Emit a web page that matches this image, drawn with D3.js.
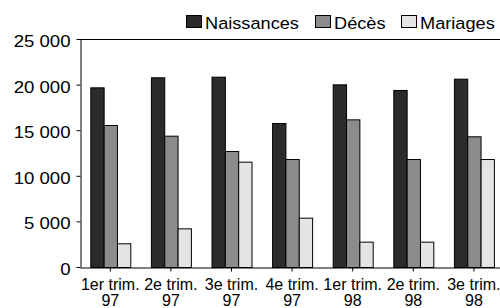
<!DOCTYPE html>
<html>
<head>
<meta charset="utf-8">
<script src="https://cdn.jsdelivr.net/npm/d3@7"></script>
<style>
  body { margin: 0; background: #fff; }
  svg { display: block; }
  svg text { font-family: "Liberation Sans", Arial, sans-serif; }
</style>
</head>
<body>
<div id="chart"></div>
<script>
const categories = ["1er trim.|97", "2e trim.|97", "3e trim.|97", "4e trim.|97", "1er trim.|98", "2e trim.|98", "3e trim.|98"];
const seriesNames = ["Naissances", "Décès", "Mariages"];
const naissances = [19700, 20800, 20870, 15790, 20030, 19410, 20650];
const deces = [15570, 14400, 12720, 11840, 16190, 11840, 14330];
const mariages = [2600, 4240, 11550, 5410, 2780, 2780, 11840];
const yTicks = [0, 5000, 10000, 15000, 20000, 25000];
const colors = ["#2b2b2b", "#8c8c8c", "#e4e4e4"];

const width = 500, height = 308;
const margin = { left: 80, top: 39, bottom: 267 };

const svg = d3.select("#chart").append("svg")
    .attr("width", width)
    .attr("height", height);

const data = categories.map((c, i) => ({
    cat: c,
    values: [naissances[i], deces[i], mariages[i]]
}));

const x0 = d3.scaleBand().domain(categories).range([80, 504.2]).padding(0);
const bw = x0.bandwidth();
const x1 = d3.scaleBand().domain(seriesNames).range([bw * 0.17, bw * 0.83]).padding(0);
const y = d3.scaleLinear().domain([0, 25000]).range([margin.bottom, margin.top]);

// frame top line
svg.append("line")
    .attr("x1", 80).attr("x2", 500)
    .attr("y1", y(25000) + 0.5).attr("y2", y(25000) + 0.5)
    .attr("stroke", "#000");

// bars
const groups = svg.selectAll(".grp")
    .data(data)
    .enter().append("g")
    .attr("class", "grp")
    .attr("transform", d => "translate(" + x0(d.cat) + ",0)");

groups.selectAll("rect")
    .data(d => d.values.map((v, j) => ({ name: seriesNames[j], v: v, j: j })))
    .enter().append("rect")
    .attr("x", d => x1(d.name) + 0.5)
    .attr("y", d => y(d.v) + 0.5)
    .attr("width", x1.bandwidth())
    .attr("height", d => y(0) - y(d.v))
    .attr("fill", d => colors[d.j])
    .attr("stroke", "#000")
    .attr("stroke-width", 1);

// y axis
const yAxis = d3.axisLeft(y).tickValues(yTicks).tickSize(4).tickSizeOuter(0)
    .tickFormat(d => d3.format(",")(d).replace(",", " "));
const gy = svg.append("g")
    .attr("transform", "translate(80.5,0)")
    .call(yAxis);
gy.select(".domain").attr("stroke", "#000");
gy.selectAll(".tick line").attr("stroke", "#000");
gy.selectAll(".tick text")
    .attr("x", 0)
    .attr("dy", "0.46em")
    .attr("transform", "translate(-10,0) scale(1.14,1)")
    .style("font-size", "16.3px")
    .attr("fill", "#000");
gy.selectAll(".tick").attr("transform", d => "translate(0," + (y(d) + 0.5) + ")");

// x axis
const xAxis = d3.axisBottom(x0).tickSize(4).tickSizeOuter(0).tickFormat("");
const gx = svg.append("g")
    .attr("transform", "translate(0," + (margin.bottom + 0.5) + ")")
    .call(xAxis);
gx.select(".domain").attr("stroke", "#000");
gx.selectAll(".tick line").attr("stroke", "#000");

const labels = svg.append("g")
    .style("font-size", "16px")
    .attr("text-anchor", "middle")
    .attr("fill", "#000");
categories.forEach(c => {
    const parts = c.split("|");
    const t = labels.append("text")
        .attr("x", x0(c) + bw / 2)
        .attr("y", 289.5);
    t.append("tspan").attr("x", x0(c) + bw / 2).text(parts[0]);
    t.append("tspan").attr("x", x0(c) + bw / 2).attr("dy", 16.5).text(parts[1]);
});

// legend
const legendX = [186, 315, 401];
const legend = svg.append("g");
seriesNames.forEach((s, i) => {
    legend.append("rect")
        .attr("x", legendX[i] + 0.5).attr("y", 15.5)
        .attr("width", 15).attr("height", 12)
        .attr("fill", colors[i])
        .attr("stroke", "#000");
    legend.append("text")
        .attr("transform", "translate(" + (legendX[i] + 19) + ",29) scale(1.07,1)")
        .style("font-size", "17px")
        .attr("fill", "#000")
        .text(s);
});
</script>
</body>
</html>
